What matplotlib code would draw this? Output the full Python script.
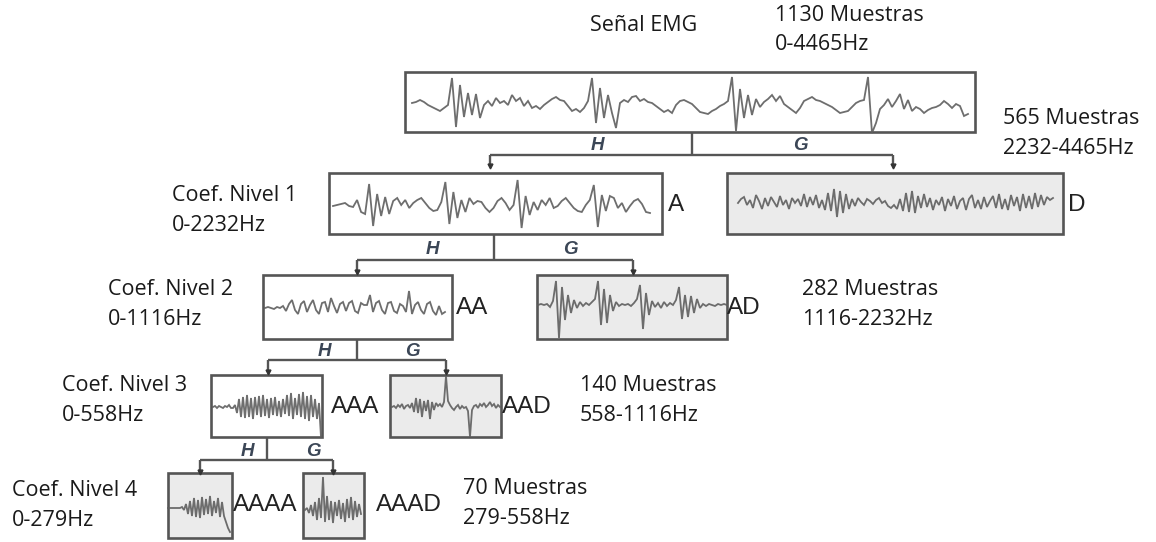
#!/usr/bin/env python3
"""
Wavelet decomposition tree of an EMG signal.

Draws the four-level split of the signal into approximation (A) and
detail (D) coefficients, with a sketch of every coefficient signal in
its own box, and saves the figure as out.png.
"""

import numpy as np
import matplotlib.pyplot as plt
from matplotlib.patches import Rectangle

# Signal sketches: amplitudes (pixel units, up is positive), evenly spaced in time
emg_signal = [0, 1, 3, 1, -2, -4, -6, -8, -5, -2,
              25, -24, 18, -14, 10, -12, 9, -15, -2, 2,
              -3, 5, 0, 2, -2, 8, 2, 5, -3, 2,
              -5, -3, -6, -2, 1, 4, 6, 3, 2, -3,
              -8, -6, -9, -5, 2, 25, -20, 15, -15, 8,
              -10, -25, 0, 3, 1, 6, 7, 2, 4, 1,
              0, -3, -6, -9, -7, -10, -2, 2, 3, 1,
              -1, -5, -9, -10, -11, -8, -6, -3, -1, 2,
              26, -28, 14, -15, 8, -12, 4, -4, 1, 4,
              8, 2, 7, -1, -4, -7, -10, -5, 2, 4,
              6, 3, 2, 0, -2, -4, -7, -10, -9, -8,
              -4, 0, 2, 3, 26, -30, -20, -6, -2, 4,
              -4, 2, 9, -6, 3, -8, -4, -6, -10, -7,
              -5, -4, -2, 2, -1, -5, -1, -3, -13, -11]

coef_a = [0, 1, 2, 3, 0, -1, 6, -6, -8, 22,
          -20, 12, -10, 9, -8, 5, 8, 1, 6, -2,
          3, 6, 8, 3, -2, -5, -4, 4, 24, -18,
          14, -12, 6, -6, 8, 2, 5, 4, -2, -6,
          -2, 5, 8, 3, -4, 1, 26, -22, 10, -9,
          4, -4, 6, 1, 8, -2, 0, 5, 8, 3,
          -2, -5, -6, 1, 6, 21, -21, 11, -5, 10,
          8, -2, 3, -6, 0, 5, 7, 2, -6, -7]

coef_d = [0, 4, 6, -2, 3, -5, 8, 2, -6, 5,
          -3, 6, 1, -4, 7, -2, 3, -6, 5, 0,
          4, -3, 9, -4, 6, -2, 8, -5, 3, -7,
          10, -8, 14, -14, 12, -10, 9, -6, 4, -3,
          5, 1, -2, 4, 2, -1, 3, 5, 0, 2,
          -3, -5, -2, -6, 4, -8, 10, -9, 12, -10,
          7, -5, 9, -4, 5, -7, 3, -2, 6, -8,
          4, -3, 7, -6, 2, 5, -7, 4, 8, -5,
          3, -6, 6, -4, 2, 7, -5, 9, -6, 4,
          -7, 8, -3, 6, -8, 9, -5, 7, -6, 10,
          -4, 8, -2, 6, 3, 5]

coef_aa = [0, 1, 0, -1, 1, 0, 2, -3, 4, 8,
           -2, -6, 4, 7, -4, 3, 8, -2, -6, 5,
           6, -4, 10, 2, -5, 4, 6, -3, 5, 7,
           -3, -5, 5, 3, 3, 13, -4, 5, 7, -2,
           -6, 5, 6, -3, -5, 4, 2, -4, 17, -6,
           3, 6, -2, -6, 4, 6, -3, -7, 2, -6,
           -4]

coef_ad = [0, 1, 0, 1, -2, 4, 24, -33, 18, -15,
           10, -8, 5, -3, 3, -1, 2, 0, 3, 6,
           24, -20, 16, -18, 10, -6, 3, -1, 1, 0,
           1, -1, 2, 6, 20, -24, 12, -10, 4, -2,
           2, -3, 3, -1, 2, 0, 5, 18, -14, 10,
           -12, 9, -8, 6, -3, 1, -1, 1, 0, -1,
           1, 0, 1, 0]

coef_aaa = [0, 1, -1, 1, 0, -1, 1, 0, 2, -1,
            -1, 2, -6, 8, -10, 10, -11, 12, -10, 9,
            -12, 10, -8, 11, -10, 12, -9, 8, -11, 9,
            -8, 10, -9, 6, -10, 8, -7, 12, -9, 14,
            -12, 9, -8, 13, -10, 15, -12, 11, -14, 12,
            -10, 8, -12, 4, -30]

coef_aad = [0, 1, -1, 2, 0, 3, -2, 1, 2, -1,
            4, -5, 9, -6, 8, -10, 6, -4, 7, -12,
            5, -3, 4, 1, 3, 0, 5, 31, 6, 2,
            -1, -3, 0, 2, -2, 1, -1, 0, -4, -30,
            -3, 1, 2, -1, 3, 1, 4, 0, 2, 5,
            1, 3, -1, 2, 0]

coef_aaaa = [0, 0, 0, 0, 0, 0, 0, 1, -2, 4,
             -6, 7, -8, 10, -9, 8, -10, 11, -7, 9,
             -6, 12, -8, 7, -5, 10, -9, 6, -8, -14,
             -20, -24]

coef_aaad = [0, 2, -3, 5, -6, 8, -10, 12, -8, 33,
             -12, 14, -10, 9, -13, 8, -6, 10, -9, 7,
             -12, 11, -8, 13, -10, 9, -7, 6, -4]

# Node names and the text notes around the tree
node_names = ['A', 'D', 'AA', 'AD', 'AAA', 'AAD', 'AAAA', 'AAAD']
level_names = ['Coef. Nivel 1', 'Coef. Nivel 2', 'Coef. Nivel 3', 'Coef. Nivel 4']
level_bands = ['0-2232Hz', '0-1116Hz', '0-558Hz', '0-279Hz']
detail_counts = ['565 Muestras', '282 Muestras', '140 Muestras', '70 Muestras']
detail_bands = ['2232-4465Hz', '1116-2232Hz', '558-1116Hz', '279-558Hz']
signal_title = 'Señal EMG'
signal_count = '1130 Muestras'
signal_band = '0-4465Hz'

EDGE = '#555555'
TRACE = '#5e5e5e'
SHADE = '#ebebeb'
TEXT = '#1a1a1a'
FILTER_TEXT = '#3b4656'

NOTE_FONT = dict(family=['Open Sans', 'DejaVu Sans'], fontsize=15.5, color=TEXT)
NODE_FONT = dict(family=['Liberation Sans', 'DejaVu Sans'], fontsize=17.5, color='#222222')


def draw_box(ax, x0, y0, x1, y1, shaded):
    """Outlined box, light grey for detail coefficients."""
    ax.add_patch(Rectangle((x0, y0), x1 - x0, y1 - y0,
                           facecolor=SHADE if shaded else 'white',
                           edgecolor=EDGE, linewidth=1.9, zorder=1))


def draw_trace(ax, values, x0, x1, yc):
    """Signal sketch spread evenly between x0 and x1 around the line y=yc."""
    vals = np.asarray(values, dtype=float)
    xs = np.linspace(x0, x1, len(vals))
    ax.plot(xs, yc - vals, color=TRACE, linewidth=1.3, alpha=0.9,
            solid_joinstyle='miter', zorder=2)


def draw_split(ax, stem_x, stem_top, bar_y, left_x, right_x, drop_y, h_x, g_x, label_y):
    """Filter bank split: stem, bar, two drops with small heads, H and G labels."""
    kw = dict(color=EDGE, linewidth=1.7, zorder=2, solid_capstyle='butt')
    ax.plot([stem_x, stem_x], [stem_top, bar_y], **kw)
    ax.plot([left_x, right_x], [bar_y, bar_y], **kw)
    for x in (left_x, right_x):
        ax.plot([x, x], [bar_y, drop_y], **kw)
        ax.plot([x], [drop_y], marker='v', markersize=3.5, color='#333333', zorder=3)
    for x, txt in ((h_x, 'H'), (g_x, 'G')):
        ax.text(x, label_y, txt, ha='center', va='center', fontsize=13.5,
                style='italic', fontweight='bold', color=FILTER_TEXT,
                family=['Liberation Sans', 'DejaVu Sans'])


def note(ax, x, y, txt):
    """Left-aligned note, y is the baseline."""
    ax.text(x, y, txt, ha='left', va='baseline', **NOTE_FONT)


def main():
    fig = plt.figure(figsize=(11.56, 5.42), dpi=100)
    ax = fig.add_axes([0, 0, 1, 1])
    ax.set_xlim(0, 1156)
    ax.set_ylim(542, 0)
    ax.axis('off')

    # Original signal
    draw_box(ax, 405, 72, 975, 132, False)
    draw_trace(ax, emg_signal, 412, 968, 103)
    note(ax, 590, 31, signal_title)
    note(ax, 775, 21, signal_count)
    note(ax, 775, 50, signal_band)

    # Box, trace span and name position of every coefficient node
    layout = {
        'A':    ((329, 173, 662, 234), False, (333, 650, 206), (668, 205)),
        'D':    ((727, 173, 1063, 234), True, (738, 1053, 203), (1068, 205)),
        'AA':   ((263, 275, 452, 339), False, (265, 445, 308), (456, 308)),
        'AD':   ((537, 275, 727, 339), True, (538, 727, 305), (727, 308)),
        'AAA':  ((211, 375, 322, 437), False, (213, 321, 407), (331, 407)),
        'AAD':  ((390, 375, 501, 437), True, (392, 500, 407), (502, 407)),
        'AAAA': ((168, 473, 232, 538), True, (168, 230, 508), (233, 505)),
        'AAAD': ((303, 473, 364, 538), True, (305, 361, 510), (376, 505)),
    }
    traces = [coef_a, coef_d, coef_aa, coef_ad, coef_aaa, coef_aad, coef_aaaa, coef_aaad]

    for name, values in zip(node_names, traces):
        (bx0, by0, bx1, by1), shaded, (tx0, tx1, tyc), (lx, ly) = layout[name]
        draw_box(ax, bx0, by0, bx1, by1, shaded)
        draw_trace(ax, values, tx0, tx1, tyc)
        ax.text(lx, ly, name, ha='left', va='center', **NODE_FONT)

    # Filter bank splits, one per level
    draw_split(ax, 692, 132, 155, 490, 893, 166, 597, 800, 146)
    draw_split(ax, 494, 234, 260, 357, 633, 272, 432, 570, 249)
    draw_split(ax, 357, 339, 360, 268, 446, 372, 324, 412, 351)
    draw_split(ax, 267, 437, 460, 200, 333, 472, 247, 313, 452)

    # Level notes on the left, detail notes on the right (first-line baselines)
    level_pos = [(172, 201), (108, 295), (62, 391), (12, 496)]
    detail_pos = [(1003, 124), (802, 295), (580, 391), (463, 494)]
    for (x, y), name, band in zip(level_pos, level_names, level_bands):
        note(ax, x, y, name)
        note(ax, x, y + 30, band)
    for (x, y), count, band in zip(detail_pos, detail_counts, detail_bands):
        note(ax, x, y, count)
        note(ax, x, y + 30, band)

    fig.savefig('out.png', dpi=100, facecolor='white')


if __name__ == '__main__':
    main()
